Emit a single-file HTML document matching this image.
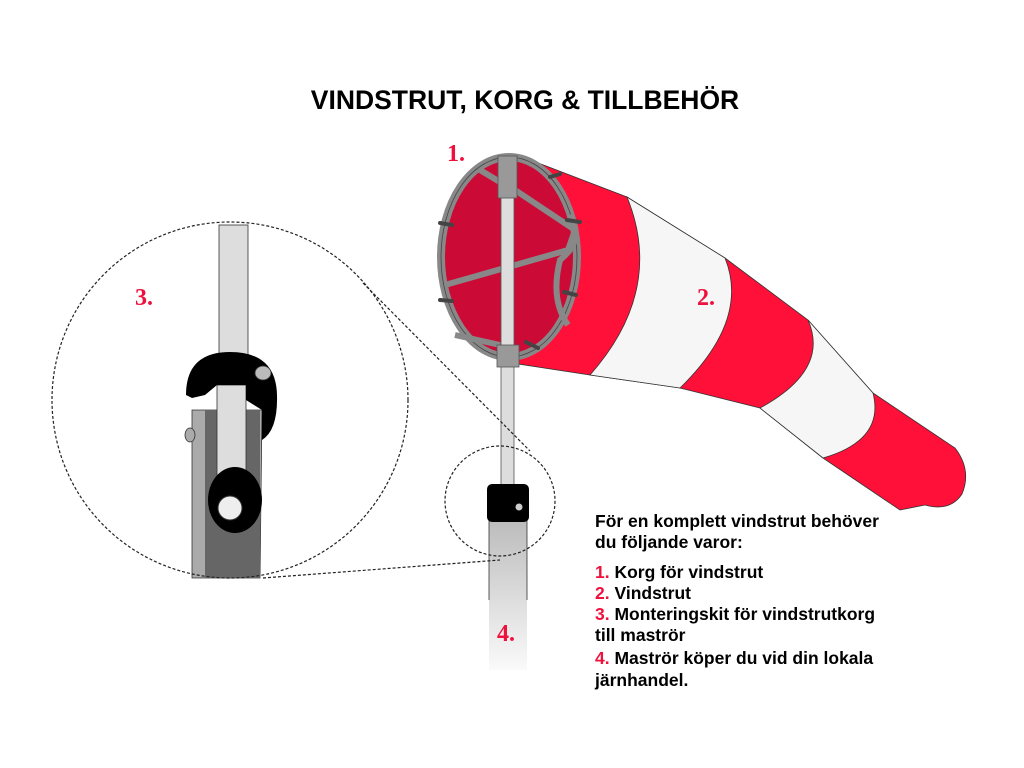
<!DOCTYPE html>
<html><head><meta charset="utf-8"><style>
html,body{margin:0;padding:0;background:#fff}
svg{display:block}
.t{font-family:"Liberation Sans",sans-serif;font-weight:bold}
.r{fill:#f0103c}
.lab{font-family:"Liberation Serif",serif;font-weight:bold;fill:#f0103c;font-size:24px}
</style></head><body>
<svg width="1024" height="768" viewBox="0 0 1024 768" xmlns="http://www.w3.org/2000/svg">
<defs>
<linearGradient id="mg" x1="0" y1="0" x2="0" y2="1"><stop offset="0" stop-color="#bbb"/><stop offset="1" stop-color="#fafafa"/></linearGradient>
</defs>
<text x="525" y="109" class="t" font-size="26.5" text-anchor="middle">VINDSTRUT, KORG &amp; TILLBEHÖR</text>

<!-- sock -->
<path d="M520,156 L627,197 L725,258 L808,320 L873,393 L955,448 Q972,470 962,494 Q950,512 925,505 L900,510 L823,458 L760,408 L680,388 L590,375 L505,362 Z" fill="#ff1038" stroke="#333" stroke-width="0.8"/>
<path d="M627,197 L725,258 Q750,320 680,388 L590,375 Q665,290 627,197 Z" fill="#f6f6f6" stroke="#333" stroke-width="0.8"/>
<path d="M808,320 L873,393 Q885,440 823,458 L760,408 Q830,370 808,320 Z" fill="#f6f6f6" stroke="#333" stroke-width="0.8"/>

<!-- basket -->
<ellipse cx="509" cy="257" rx="68" ry="100" fill="#cc0a36" stroke="#888" stroke-width="8"/>
<ellipse cx="509" cy="257" rx="68" ry="100" fill="none" stroke="#444" stroke-width="0.8"/>
<path d="M570,215 Q585,240 560,260 Q550,300 568,325" fill="none" stroke="#888" stroke-width="6"/>
<path d="M445,285 L568,250 L575,230 L515,190" fill="none" stroke="#888" stroke-width="6"/>
<path d="M480,170 L505,185 M455,335 L500,345" fill="none" stroke="#888" stroke-width="6"/>
<rect x="501" y="160" width="13" height="330" fill="#ddd" stroke="#555" stroke-width="0.8"/>
<rect x="498" y="156" width="19" height="42" fill="#999" stroke="#555" stroke-width="0.8"/>
<rect x="497" y="345" width="22" height="22" fill="#999" stroke="#555" stroke-width="0.8"/>
<g stroke="#444" stroke-width="4" stroke-linecap="round">
<line x1="440" y1="223" x2="452" y2="225"/><line x1="440" y1="300" x2="452" y2="301"/>
<line x1="550" y1="177" x2="560" y2="174"/><line x1="567" y1="220" x2="580" y2="222"/>
<line x1="564" y1="292" x2="576" y2="295"/><line x1="526" y1="342" x2="538" y2="348"/>
</g>

<!-- mast and cap -->
<rect x="489" y="518" width="38" height="152" fill="url(#mg)"/>
<line x1="489" y1="518" x2="489" y2="600" stroke="#333" stroke-width="0.8"/>
<line x1="527" y1="518" x2="527" y2="600" stroke="#333" stroke-width="0.8"/>
<rect x="487" y="484" width="42" height="38" rx="5" fill="#000"/>
<circle cx="519" cy="507" r="3.5" fill="#ccc"/>
<text x="497" y="641" class="lab">4.</text>

<!-- dashed circles -->
<ellipse cx="500" cy="501" rx="55" ry="55" fill="none" stroke="#222" stroke-width="1.2" stroke-dasharray="3,2"/>
<line x1="363" y1="283" x2="530" y2="451" stroke="#222" stroke-width="1.2" stroke-dasharray="3,2"/>
<line x1="263" y1="578" x2="500" y2="560" stroke="#222" stroke-width="1.2" stroke-dasharray="3,2"/>

<!-- detail -->
<rect x="219" y="225" width="29" height="140" fill="#ddd" stroke="#333" stroke-width="0.8"/>
<path d="M192,410 L192,578 L260,578 L262,410 Z" fill="#aaa" stroke="#333" stroke-width="0.8"/>
<rect x="205" y="410" width="55" height="168" fill="#666"/>
<rect x="217" y="385" width="29" height="90" fill="#ddd" stroke="#333" stroke-width="0.8"/>
<path d="M186,395 Q186,352 230,352 Q276,352 277,395 Q278,430 262,440 L262,410 L246,400 L246,385 L217,385 L205,395 L192,398 Z" fill="#000"/>
<ellipse cx="263" cy="373" rx="8" ry="7" fill="#bbb" stroke="#333" stroke-width="0.8"/>
<ellipse cx="190" cy="435" rx="5" ry="7" fill="#aaa" stroke="#333" stroke-width="0.8"/>
<ellipse cx="235" cy="500" rx="27" ry="33" fill="#000"/>
<circle cx="230" cy="508" r="12" fill="#eee" stroke="#333" stroke-width="1"/>
<ellipse cx="230" cy="400" rx="178" ry="178" fill="none" stroke="#222" stroke-width="1.2" stroke-dasharray="3,2"/>
<text x="135" y="305" class="lab">3.</text>

<text x="447" y="161" class="lab">1.</text>
<text x="697" y="305" class="lab">2.</text>

<g class="t" font-size="17.5">
<text x="595" y="527">För en komplett vindstrut behöver</text>
<text x="595" y="548">du följande varor:</text>
<text x="595" y="578"><tspan class="r">1.</tspan> Korg för vindstrut</text>
<text x="595" y="599"><tspan class="r">2.</tspan> Vindstrut</text>
<text x="595" y="620"><tspan class="r">3.</tspan> Monteringskit för vindstrutkorg</text>
<text x="595" y="641">till maströr</text>
<text x="595" y="664"><tspan class="r">4.</tspan> Maströr köper du vid din lokala</text>
<text x="595" y="686">järnhandel.</text>
</g>
</svg>
</body></html>
